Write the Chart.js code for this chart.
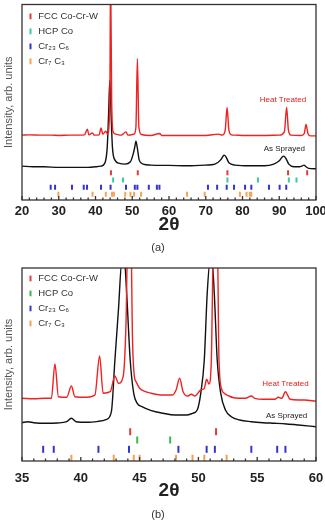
<!DOCTYPE html>
<html>
<head>
<meta charset="utf-8">
<script src="https://cdn.jsdelivr.net/npm/chart.js@4.4.1/dist/chart.umd.min.js"></script>
<style>
  body { margin: 0; background: #fff; }
  .box { position: absolute; left: 0; width: 325px; }
</style>
</head>
<body>
<div class="box" style="top:0;height:258px"><canvas id="chartA"></canvas></div>
<div class="box" style="top:260px;height:262px"><canvas id="chartB"></canvas></div>
<script>
// panel (a): 20-100 deg
const heatA_x = [20, 22, 25, 28, 30, 33, 35, 37, 37.8, 38.2, 39.2, 39.6, 41, 41.5, 42, 42.8, 43.3, 43.9, 44.1, 44.4, 44.8, 45.5, 47, 48.3, 48.8, 50.5, 51.0, 51.4, 51.8, 52.5, 55, 57.5, 58, 60, 65, 70, 73.5, 74.5, 75.3, 75.8, 76.3, 77, 78, 80, 85, 90, 91.4, 92.0, 92.5, 93.2, 96, 96.8, 97.3, 97.8, 98.5, 100];
const heatA_y = [65, 65.3, 65, 65, 64.7, 65, 65, 65.3, 71, 65.3, 67.3, 65, 65.3, 72.3, 66, 69, 66, 100, 230, 100, 68.3, 66, 65, 68.3, 65, 66, 73.3, 141.7, 73.3, 65.7, 64.7, 66.7, 64.7, 64.7, 64.7, 64.7, 66, 65, 70, 92.7, 70, 65.3, 65, 64.7, 64.7, 65, 68.3, 92.7, 70, 65, 64.7, 66.7, 75.7, 66.7, 64.3, 64.3];
const sprayA_x = [20, 23, 26, 30, 35, 38, 40, 41.5, 42.5, 43.2, 43.6, 43.9, 44.2, 44.6, 45.3, 46.5, 48, 49.5, 50.3, 50.7, 51.0, 51.4, 51.9, 53, 55, 60, 65, 70, 72.5, 74, 74.6, 75.0, 75.5, 76.3, 78, 82, 86, 88.5, 90, 90.7, 91.2, 91.8, 92.6, 94, 95.5, 96.3, 96.7, 97.3, 98, 100];
const sprayA_y = [34, 33.3, 33.3, 32.7, 32.7, 32.7, 33.3, 34, 36.7, 53.3, 90, 120, 90, 53.3, 40, 36.7, 36, 38.3, 46.7, 53.3, 59, 51.7, 40, 36, 35, 34.7, 34.3, 35, 36, 40, 43.3, 45, 43.3, 37.3, 35, 34.3, 34.3, 36, 39.3, 42.7, 44, 41.7, 36, 33.3, 33.3, 34.3, 35, 33.3, 31.7, 31.3];
const fccA = [44.2, 51.5, 75.9, 92.4, 97.6];
const hcpA = [44.8, 47.5, 75.9, 84.2, 92.6, 94.7];
const cr23c6A = [27.8, 29.0, 33.6, 36.8, 37.7, 41.5, 44.1, 48.3, 50.7, 51.4, 54.5, 56.7, 57.4, 70.6, 73.1, 75.7, 77.7, 80.7, 82.4, 87.2, 90.1, 91.9];
const cr7c3A = [29.9, 39.2, 42.8, 44.5, 45.0, 48.1, 49.5, 50.5, 52.4, 64.9, 69.7, 79.3, 81.1, 82.0, 82.4];
const rowsA = [27.3, 20, 12.7, 5.7];
const ticksA = [20, 30, 40, 50, 60, 70, 80, 90, 100];

// panel (b): 35-60 deg
const heatB_x = [35, 36, 37, 37.5, 37.8, 38.1, 38.8, 39.2, 39.5, 40.5, 41.2, 41.6, 41.9, 42.5, 42.9, 43.2, 43.6, 43.85, 44.0, 44.25, 44.4, 44.55, 44.7, 45.0, 45.5, 46, 47, 47.8, 48.1, 48.4, 48.7, 49.1, 49.4, 49.7, 50.2, 50.5, 50.7, 50.9, 51.1, 51.3, 51.6, 51.75, 52.0, 52.2, 52.6, 53, 54, 54.5, 54.8, 55.5, 56.5, 56.8, 57.1, 57.4, 57.8, 58.5, 59, 60];
const heatB_y = [62.7, 62.3, 62.7, 62.7, 97, 64.3, 63.7, 75, 64.3, 63.7, 66, 105, 67.7, 69.3, 85, 77.7, 84.3, 140, 230, 230, 120, 85, 79.3, 72.7, 69.3, 67.7, 66, 66, 71, 82.7, 69.3, 65, 66.7, 65, 71, 72.7, 81.7, 77, 101, 230, 230, 101, 71, 67.7, 65, 63.3, 62.7, 65, 62.7, 61.7, 61.7, 63.7, 62.7, 69.3, 61.7, 61, 61, 59.7];
const sprayB_x = [35, 35.5, 36, 37, 38, 38.8, 39.2, 39.6, 40.5, 41.5, 42.2, 42.6, 42.9, 43.2, 43.5, 43.7, 43.9, 44.2, 44.5, 44.8, 45.2, 46, 47, 48, 49, 49.5, 49.9, 50.2, 50.5, 50.75, 51.0, 51.15, 51.35, 51.6, 51.9, 52.3, 52.8, 53.5, 54.5, 55.5, 56.5, 57.5, 58.5, 60];
const sprayB_y = [38.3, 39.3, 38.3, 37.7, 38, 39.3, 42.7, 39.3, 38.7, 39.7, 41.7, 49.3, 101, 151, 201, 201, 167.7, 101, 67.7, 57.7, 54.3, 50.3, 47.7, 46, 46, 47.7, 51, 67.7, 101, 167.7, 201, 201, 167.7, 101, 67.7, 51, 44.3, 41, 39.3, 38.3, 37.7, 37, 36, 34.3];
const fccB = [44.2, 51.5];
const hcpB = [44.8, 47.6];
const cr23c6B = [36.8, 37.7, 41.5, 44.1, 48.3, 50.7, 51.4, 54.5, 56.7, 57.4];
const cr7c3B = [39.2, 42.8, 44.5, 45.0, 48.1, 49.5, 50.5, 52.4];
const rowsB = [29.3, 21, 11.7, 2.7];
const ticksB = [35, 40, 45, 50, 55, 60];

const phaseNames = ['FCC Co-Cr-W', 'HCP Co', 'Cr₂₃ C₆', 'Cr₇ C₃'];

Chart.defaults.font.family = "'Liberation Sans', Arial, sans-serif";
Chart.defaults.color = '#333';

const zip = (xs, ys) => xs.map((x, i) => ({ x: x, y: ys[i] }));

// box round the plot, inward ticks on the bottom axis, and the curve names
const framePlugin = {
  id: 'frame',
  afterDatasetsDraw(chart, args, opts) {
    const { ctx, chartArea: a, scales: { x, y } } = chart;
    ctx.save();
    ctx.strokeStyle = '#333';
    ctx.lineWidth = 1.3;
    ctx.strokeRect(a.left, a.top, a.right - a.left, a.bottom - a.top);
    x.ticks.forEach(t => {
      const px = x.getPixelForValue(t.value);
      const len = opts.major.includes(t.value) ? 4 : 2.5;
      ctx.beginPath();
      ctx.moveTo(px, a.bottom);
      ctx.lineTo(px, a.bottom - len);
      ctx.stroke();
    });
    ctx.font = "8px 'Liberation Sans', Arial, sans-serif";
    ctx.textAlign = 'center';
    ctx.textBaseline = 'middle';
    opts.notes.forEach(n => {
      ctx.fillStyle = n.color;
      ctx.fillText(n.text, x.getPixelForValue(n.x), y.getPixelForValue(n.y));
    });
    ctx.restore();
  }
};

function refSet(label, xs, level, color, r) {
  return {
    label: label,
    data: xs.map(v => ({ x: v, y: level })),
    showLine: false,
    borderColor: color,
    backgroundColor: color,
    pointStyle: 'line',
    pointRotation: 90,
    pointRadius: r,
    pointBorderWidth: 2,
    pointHoverRadius: r
  };
}

function makeChart(id, p) {
  const datasets = [
    { label: 'Heat Treated', data: zip(p.heatX, p.heatY), borderColor: '#ee2222', borderWidth: 1.4, pointRadius: 0, cubicInterpolationMode: 'monotone' },
    { label: 'As Sprayed', data: zip(p.sprayX, p.sprayY), borderColor: '#111', borderWidth: 1.4, pointRadius: 0, cubicInterpolationMode: 'monotone' },
    refSet(phaseNames[0], p.fcc, p.rows[0], p.colors[0], p.tick),
    refSet(phaseNames[1], p.hcp, p.rows[1], p.colors[1], p.tick),
    refSet(phaseNames[2], p.cr23, p.rows[2], p.colors[2], p.tick),
    refSet(phaseNames[3], p.cr7, p.rows[3], p.colors[3], p.tick)
  ];
  return new Chart(document.getElementById(id), {
    type: 'line',
    data: { datasets: datasets },
    plugins: [framePlugin],
    options: {
      responsive: true,
      maintainAspectRatio: false,
      animation: false,
      events: [],
      layout: { padding: { left: 0, right: 9, top: p.top, bottom: p.bottom } },
      scales: {
        x: {
          type: 'linear',
          min: p.ticks[0],
          max: p.ticks[p.ticks.length - 1],
          grid: { display: false, drawTicks: false, tickLength: 0 },
          border: { display: false },
          ticks: {
            stepSize: p.step,
            autoSkip: false,
            maxRotation: 0,
            padding: p.tickPad,
            color: '#222',
            font: { size: 13, weight: 'bold' },
            callback: v => p.ticks.includes(v) ? String(v) : ''
          },
          title: { display: true, text: '2θ', color: '#222', font: { size: 19, weight: 'bold' }, padding: { top: 0, bottom: p.titlePad } },
          afterFit: s => { s.height = p.axisH; s.paddingLeft = 0; s.paddingRight = 0; }
        },
        y: {
          min: 0,
          max: p.yMax,
          grid: { display: false },
          border: { display: false },
          ticks: { display: false },
          title: { display: true, text: 'Intensity, arb. units', color: '#555', font: { size: 11 }, padding: { top: 2, bottom: 0 } },
          afterFit: s => { s.width = 22; }
        }
      },
      plugins: {
        legend: {
          position: 'chartArea',
          align: 'start',
          title: { display: true, text: ' ', font: { size: 1 }, padding: { top: 0, bottom: p.legendShift } },
          labels: {
            usePointStyle: true,
            boxWidth: 6,
            boxHeight: 4,
            padding: 5.5,
            color: '#333',
            font: { size: 9.5 },
            filter: (item, data) => data.datasets[item.datasetIndex].showLine === false
          }
        },
        title: { display: true, text: p.caption, position: 'bottom', color: '#333', font: { size: 11, weight: 'normal' }, padding: 0 },
        tooltip: { enabled: false },
        frame: { major: p.ticks, notes: p.notes }
      }
    }
  });
}

makeChart('chartA', {
  heatX: heatA_x, heatY: heatA_y, sprayX: sprayA_x, sprayY: sprayA_y,
  fcc: fccA, hcp: hcpA, cr23: cr23c6A, cr7: cr7c3A, rows: rowsA,
  colors: ['#e23b3b', '#3cc9a0', '#3434c8', '#f5a555'],
  ticks: ticksA, step: 2, yMax: 196, tick: 2.5, legendShift: 5,
  top: 4, bottom: 3.9, axisH: 40.9, tickPad: 4, titlePad: 4.5, caption: '(a)',
  notes: [
    { text: 'Heat Treated', x: 91, y: 100, color: '#e02020' },
    { text: 'As Sprayed', x: 91.4, y: 51, color: '#222' }
  ]
});

makeChart('chartB', {
  heatX: heatB_x, heatY: heatB_y, sprayX: sprayB_x, sprayY: sprayB_y,
  fcc: fccB, hcp: hcpB, cr23: cr23c6B, cr7: cr7c3B, rows: rowsB,
  colors: ['#e23b3b', '#3cb44b', '#3434d0', '#f5a050'],
  ticks: ticksB, step: 1, yMax: 193, tick: 3.5, legendShift: 7,
  top: 8, bottom: 0, axisH: 47.8, tickPad: 9.5, titlePad: 6.4, caption: '(b)',
  notes: [
    { text: 'Heat Treated', x: 57.4, y: 77, color: '#e02020' },
    { text: 'As Sprayed', x: 57.5, y: 45, color: '#222' }
  ]
});
</script>
</body>
</html>
